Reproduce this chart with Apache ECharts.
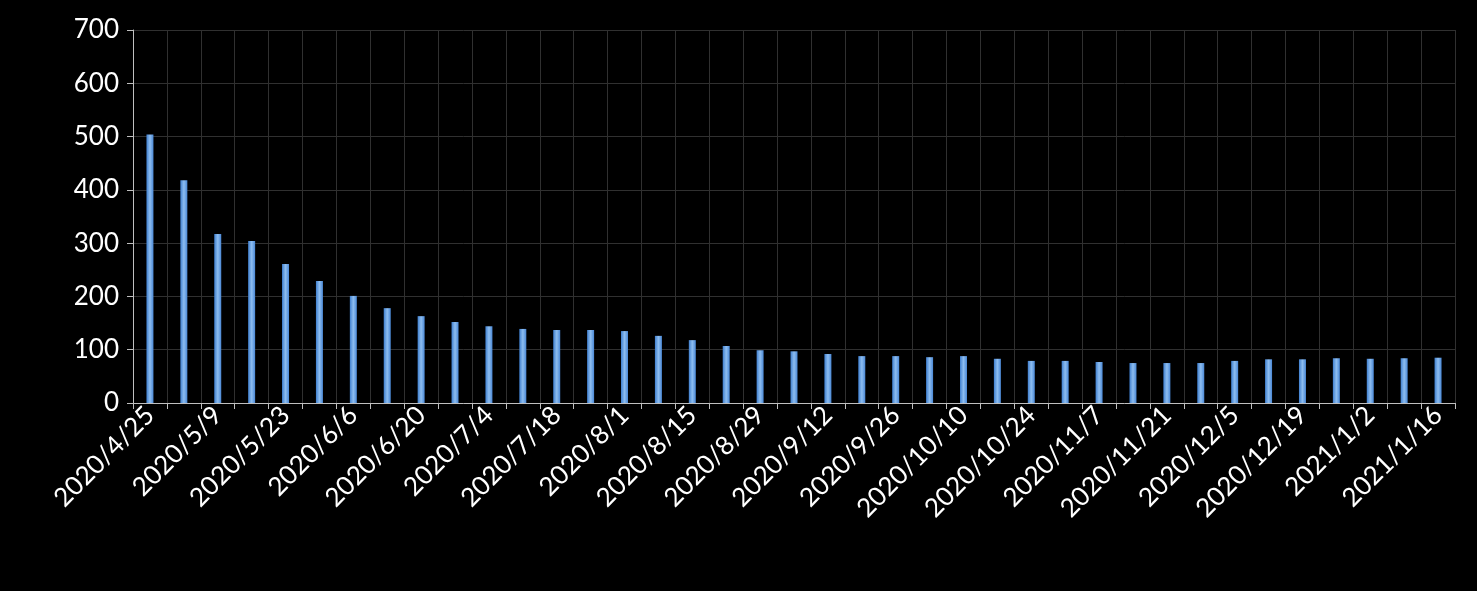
<!DOCTYPE html>
<html>
<head>
<meta charset="utf-8">
<script src="https://cdn.jsdelivr.net/npm/echarts@6/dist/echarts.min.js"></script>
<style>
  html, body { margin: 0; padding: 0; background: #000; }
  #chart { width: 1477px; height: 591px; }
</style>
</head>
<body>
<div id="chart"></div>
<script>
// weekly dates, 2020/4/25 .. 2021/1/16
const dates = [
  '2020/4/25', '2020/5/2', '2020/5/9', '2020/5/16', '2020/5/23', '2020/5/30',
  '2020/6/6', '2020/6/13', '2020/6/20', '2020/6/27', '2020/7/4', '2020/7/11',
  '2020/7/18', '2020/7/25', '2020/8/1', '2020/8/8', '2020/8/15', '2020/8/22',
  '2020/8/29', '2020/9/5', '2020/9/12', '2020/9/19', '2020/9/26', '2020/10/3',
  '2020/10/10', '2020/10/17', '2020/10/24', '2020/10/31', '2020/11/7', '2020/11/14',
  '2020/11/21', '2020/11/28', '2020/12/5', '2020/12/12', '2020/12/19', '2020/12/26',
  '2021/1/2', '2021/1/9', '2021/1/16'
];
const values = [
  504, 418, 317, 304, 261, 229, 201, 178, 163, 152, 144, 139,
  137, 137, 135, 126, 118, 107, 99, 97, 92, 88, 88, 86,
  88, 83, 79, 79, 77, 75, 75, 75, 79, 82, 82, 84,
  83, 84, 85
];
const yMin = 0, yMax = 700, yStep = 100;

const chart = echarts.init(document.getElementById('chart'));
const font = 'Lato, "Open Sans", sans-serif';

chart.setOption({
  backgroundColor: '#000',
  animation: false,
  grid: { left: 133, right: 22, top: 30, bottom: 188 },
  xAxis: {
    type: 'category',
    data: dates,
    boundaryGap: true,
    axisLine: { lineStyle: { color: '#bfbfbf', width: 1 } },
    axisTick: { show: true, interval: 0, length: 6, lineStyle: { color: '#bfbfbf' } },
    splitLine: { show: true, interval: 0, lineStyle: { color: '#303030' } },
    axisLabel: {
      interval: 1, rotate: 45, color: '#fff', fontSize: 26, fontFamily: font, margin: 8
    }
  },
  yAxis: {
    type: 'value',
    min: yMin, max: yMax, interval: yStep,
    axisLine: { show: true, lineStyle: { color: '#bfbfbf' } },
    axisTick: { show: true, length: 6, lineStyle: { color: '#bfbfbf' } },
    splitLine: { lineStyle: { color: '#303030' } },
    axisLabel: { color: '#fff', fontSize: 26, fontFamily: font, margin: 14 }
  },
  series: [{
    type: 'bar',
    data: values,
    barWidth: 7,
    itemStyle: {
      color: new echarts.graphic.LinearGradient(0, 0, 1, 0, [
        { offset: 0, color: '#3f7fcf' },
        { offset: 0.5, color: '#8dbdf0' },
        { offset: 1, color: '#4a88d6' }
      ])
    }
  }]
});
</script>
</body>
</html>
